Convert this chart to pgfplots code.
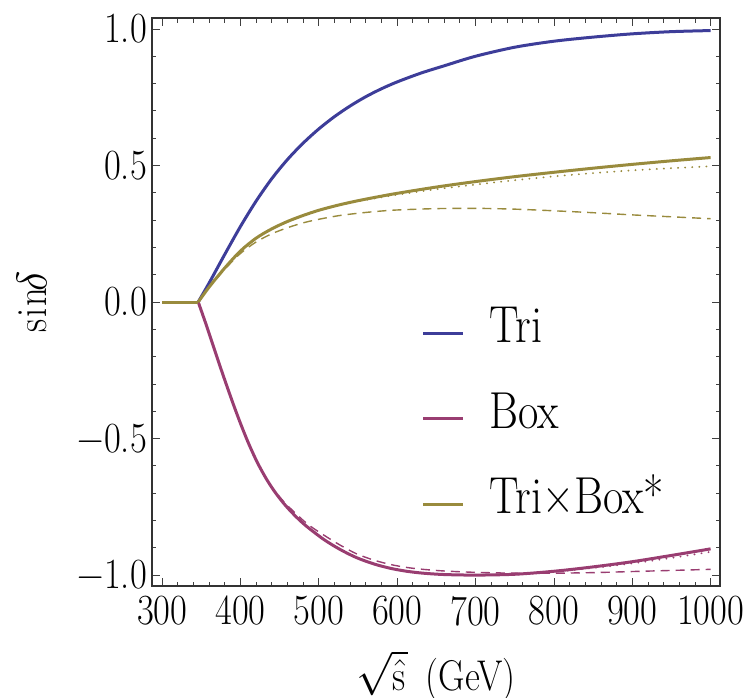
\RequirePackage{fix-cm}
\documentclass[border=0pt]{standalone}
\usepackage{fontspec}
\setmainfont{lmroman17-regular.otf}[FakeStretch=0.85]
\usepackage{pgfplots}
\pgfplotsset{compat=1.18}
\definecolor{ctri}{rgb}{0.24,0.24,0.6}
\definecolor{cbox}{rgb}{0.6,0.24,0.4428}
\definecolor{ctb}{rgb}{0.6,0.547,0.24}
\begin{document}
\begin{tikzpicture}
\begin{axis}[
  scale only axis, width=568pt, height=568pt,
  xmin=287, xmax=1012, ymin=-1.04, ymax=1.04,
  xtick={300,400,500,600,700,800,900,1000},
  xticklabels={300,400,500,600,700,800,900,1000},
  ytick={-1,-0.5,0,0.5,1},
  yticklabels={−1.0,−0.5,0.0,0.5,1.0},
  minor x tick num=4, minor y tick num=4,
  tick align=inside, tick pos=both,
  xticklabel pos=bottom, yticklabel pos=left,
  major tick length=8pt, minor tick length=4.5pt,
  every tick/.style={black!75, line width=0.8pt},
  axis line style={black!80, line width=1.2pt},
  tick label style={font=\fontsize{43}{45}\selectfont},
  xticklabel style={inner sep=0pt, yshift=-10pt},
  yticklabel style={inner sep=0pt, xshift=-5pt},
  xlabel={$\sqrt{\hat{\mathrm{s}}}$\, (GeV)},
  ylabel={$\mathrm{sin}\!\delta$},
  every axis x label/.style={at={(axis description cs:0.5,-0.158)}, anchor=center, inner sep=0pt, font=\fontsize{43}{45}\selectfont},
  every axis y label/.style={at={(axis description cs:-0.2113,0.5)}, anchor=center, rotate=90, inner sep=0pt, font=\fontsize{43}{45}\selectfont},
  legend style={at={(axis description cs:0.4748,0.4917)}, anchor=north west,
    draw=none, fill=none, inner sep=0pt, row sep=32.3pt, column sep=25pt,
    font=\fontsize{52}{54}\selectfont,
    nodes={inner sep=0pt, text height=36pt, text depth=17pt}},
  legend cell align=left,
  legend image code/.code={\draw[#1] (0pt,0pt) -- (40pt,0pt);},
]
\addlegendimage{ctri, line width=3pt}
\addlegendentry{Tri}
\addlegendimage{cbox, line width=3pt}
\addlegendentry{Box}
\addlegendimage{ctb, line width=3pt}
\addlegendentry{Tri×Box*}

% ---- Tri ----
\addplot[forget plot, ctri, line width=3pt] coordinates {(300,0) (346,0)};
\addplot[forget plot, ctri, line width=3pt, smooth] coordinates {
(346,0) (360,0.070) (380,0.175) (400,0.277) (420,0.370) (440,0.452) (460,0.522)
(480,0.582) (500,0.634) (520,0.679) (540,0.718) (560,0.752) (580,0.781) (600,0.806)
(630,0.838) (660,0.865) (700,0.900) (750,0.933) (800,0.955) (850,0.970) (900,0.982)
(950,0.990) (1000,0.994)};

% ---- Box ----
\addplot[forget plot, cbox, line width=1.4pt, dash pattern=on 9pt off 6pt, smooth] coordinates {
(346,0) (357,-0.090) (368,-0.185) (378,-0.270) (390,-0.368) (400,-0.445) (410,-0.516)
(421,-0.585) (432,-0.643) (442,-0.685) (453,-0.724) (463,-0.754) (485,-0.812) (506,-0.853)
(527,-0.890) (548,-0.922) (570,-0.945) (591,-0.961) (612,-0.972) (633,-0.979) (660,-0.985)
(700,-0.990) (750,-0.993) (800,-0.993) (850,-0.991) (900,-0.987) (950,-0.983) (1000,-0.979)};
\addplot[forget plot, cbox, line width=2pt, line cap=round, dash pattern=on 0.1pt off 7pt, smooth] coordinates {
(700,-1.0) (750,-0.998) (800,-0.988) (850,-0.974) (900,-0.957) (950,-0.937) (1000,-0.915)};
\addplot[forget plot, cbox, line width=3pt] coordinates {(300,0) (346,0)};
\addplot[forget plot, cbox, line width=3pt, smooth] coordinates {
(346,0) (357,-0.090) (368,-0.185) (378,-0.270) (390,-0.368) (400,-0.445) (410,-0.516)
(421,-0.585) (432,-0.643) (442,-0.688) (453,-0.730) (463,-0.763) (474,-0.795) (485,-0.823)
(506,-0.869) (527,-0.906) (548,-0.936) (570,-0.959) (591,-0.975) (612,-0.986) (633,-0.993)
(660,-0.998) (700,-1.000) (750,-0.997) (800,-0.986) (850,-0.970) (900,-0.951) (950,-0.928)
(1000,-0.904)};

% ---- Tri x Box* ----
\addplot[forget plot, ctb, line width=1.4pt, dash pattern=on 9pt off 6pt, smooth] coordinates {
(346,0) (360,0.053) (380,0.120) (400,0.178) (420,0.220) (440,0.250) (460,0.272) (480,0.290)
(500,0.303) (525,0.316) (550,0.325) (575,0.332) (600,0.337) (650,0.342) (700,0.343)
(750,0.340) (800,0.334) (850,0.327) (900,0.319) (950,0.312) (1000,0.305)};
\addplot[forget plot, ctb, line width=2pt, line cap=round, dash pattern=on 0.1pt off 7pt, smooth] coordinates {
(500,0.336) (525,0.354) (550,0.369) (575,0.381) (600,0.393) (650,0.413) (700,0.430)
(750,0.446) (800,0.460) (850,0.472) (900,0.482) (950,0.490) (1000,0.497)};
\addplot[forget plot, ctb, line width=3pt] coordinates {(300,0) (346,0)};
\addplot[forget plot, ctb, line width=3pt, smooth] coordinates {
(346,0) (360,0.055) (380,0.125) (400,0.187) (420,0.234) (440,0.268) (460,0.295) (480,0.317)
(500,0.336) (525,0.355) (550,0.371) (575,0.385) (600,0.398) (650,0.421) (700,0.441)
(750,0.459) (800,0.475) (850,0.490) (900,0.504) (950,0.517) (1000,0.529)};
\end{axis}
\pgfresetboundingbox
\path (current axis.south west) ++(-152pt,-111pt) rectangle ++(752pt,697pt);
\end{tikzpicture}
\end{document}
